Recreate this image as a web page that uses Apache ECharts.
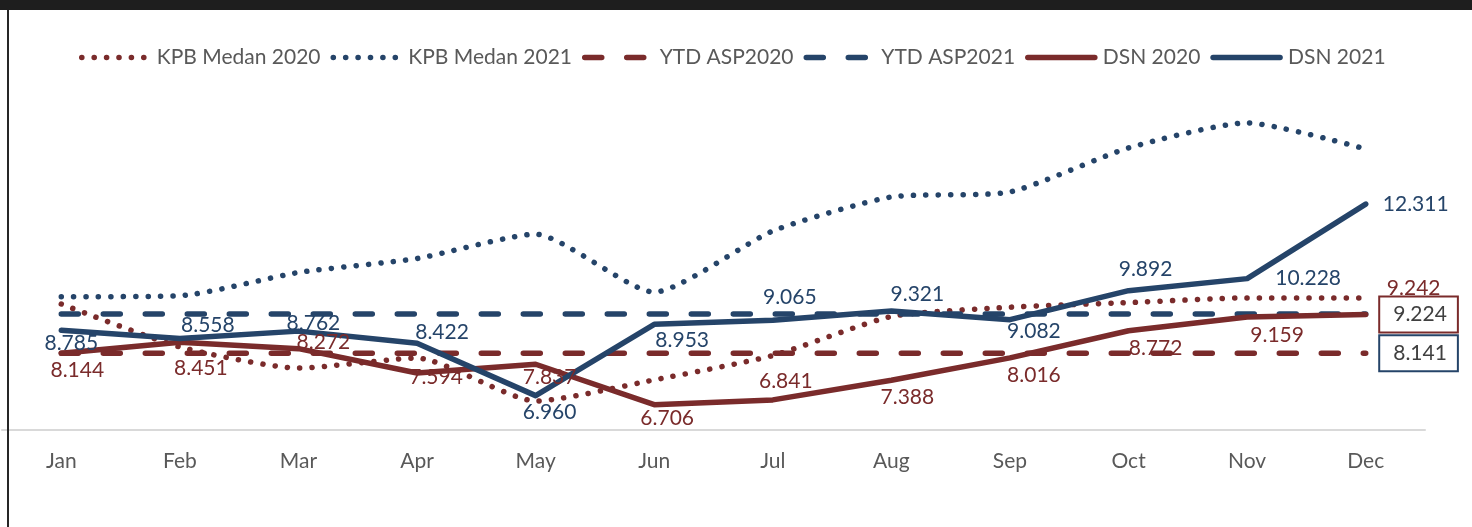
<!DOCTYPE html>
<html>
<head>
<meta charset="utf-8">
<script src="https://cdn.jsdelivr.net/npm/echarts@6/dist/echarts.min.js"></script>
<style>
html,body{margin:0;padding:0;background:#fff;}
#chart{width:1472px;height:527px;}
</style>
</head>
<body>
<div id="chart"></div>
<script>
// ---- data ----
const months = ['Jan','Feb','Mar','Apr','May','Jun','Jul','Aug','Sep','Oct','Nov','Dec'];
const kpb2020 = [9.52, 8.32, 7.73, 8.01, 6.81, 7.40, 8.08, 9.17, 9.43, 9.56, 9.69, 9.69];
const kpb2021 = [9.72, 9.75, 10.40, 10.79, 11.47, 9.85, 11.56, 12.51, 12.65, 13.88, 14.58, 13.85];
const ytd2020 = [8.141, 8.141, 8.141, 8.141, 8.141, 8.141, 8.141, 8.141, 8.141, 8.141, 8.141, 8.141];
const ytd2021 = [9.242, 9.242, 9.242, 9.242, 9.242, 9.242, 9.242, 9.242, 9.242, 9.242, 9.242, 9.242];
const dsn2020 = [8.144, 8.451, 8.272, 7.594, 7.837, 6.706, 6.841, 7.388, 8.016, 8.772, 9.159, 9.224];
const dsn2021 = [8.785, 8.558, 8.762, 8.422, 6.960, 8.953, 9.065, 9.321, 9.082, 9.892, 10.228, 12.311];

// ---- label layout (offsets relative to each point) ----
const dsn2021Offsets = [[10,13],[28,-13],[15,-8],[25,-11],[14,17],[28,16],[17,-23],[26,-17],[24,12],[17,-21],[61,0],[50,0]];
const dsn2020Offsets = [[16,17],[21,26],[25,-6],[19,4],[14,13],[13,14],[13,-19],[16,17],[24,17],[27,17],[30,18],[0,0]];

const RED = '#7a2b2b';
const BLUE = '#254469';
const FONT = 'Lato';

function fmt(v){ return v.toFixed(3); }

function labelled(values, offsets, color){
  return values.map((v,i)=>({
    value: v,
    label: {show: true, position: 'inside', offset: offsets[i], color: color,
            fontSize: 21, fontFamily: FONT, formatter: p => fmt(p.value)}
  }));
}

const dsn2020Data = labelled(dsn2020, dsn2020Offsets, RED);
dsn2020Data[11].label = {show: true, position: 'right', distance: 14, color: '#404040',
  fontSize: 21, fontFamily: FONT, backgroundColor: '#fff', borderColor: RED, borderWidth: 2,
  padding: [7, 10, 6, 13], formatter: p => fmt(p.value)};

const ytd2020Data = ytd2020.map(v=>({value:v}));
ytd2020Data[11] = {value: ytd2020[11], label: {show: true, position: 'right', distance: 14, color: '#404040',
  fontSize: 21, fontFamily: FONT, backgroundColor: '#fff', borderColor: BLUE, borderWidth: 2,
  padding: [7, 10, 6, 13], formatter: p => fmt(p.value)}};

const ytd2021Data = ytd2021.map(v=>({value:v}));
ytd2021Data[11] = {value: ytd2021[11], label: {show: true, position: 'inside', offset: [48,-26], color: RED,
  fontSize: 21, fontFamily: FONT, formatter: p => fmt(p.value)}};

function series(name, data, color, type, width, smooth){
  let dash = 'solid';
  if (type === 'dot') dash = [0.1, 12.3];
  if (type === 'dash') dash = [17, 25];
  return {
    name: name, type: 'line', data: data, smooth: smooth || false,
    symbol: 'circle', symbolSize: 1, showSymbol: true,
    itemStyle: {color: 'rgba(0,0,0,0)', borderWidth: 0},
    color: color,
    lineStyle: {color: color, width: width, type: dash, cap: 'round', join: 'round'},
    emphasis: {disabled: true},
    animation: false
  };
}

const chart = echarts.init(document.getElementById('chart'), null, {renderer: 'canvas'});
chart.setOption({
  animation: false,
  backgroundColor: '#fff',
  grid: {left: 2, right: 47, top: 72, bottom: 97, containLabel: false},
  legend: {
    left: 74, top: 42,
    itemWidth: 67, itemHeight: 14, itemGap: 10,
    textStyle: {color: '#595959', fontSize: 21, fontFamily: FONT, padding: [0,0,0,3]},
    lineStyle: {width: 'inherit', type: 'inherit', cap: 'inherit'},
    itemStyle: {color: 'rgba(0,0,0,0)', borderWidth: 0},
    data: ['KPB Medan 2020','KPB Medan 2021','YTD ASP2020','YTD ASP2021','DSN 2020','DSN 2021']
  },
  xAxis: {
    type: 'category', data: months, boundaryGap: true,
    axisLine: {lineStyle: {color: '#d9d9d9', width: 2}},
    axisTick: {show: false},
    axisLabel: {color: '#595959', fontSize: 21, fontFamily: FONT, margin: 21}
  },
  yAxis: {type: 'value', min: 6, max: 16, show: false, splitLine: {show: false}},
  series: [
    series('KPB Medan 2020', kpb2020, RED, 'dot', 5.5, 0.2),
    series('KPB Medan 2021', kpb2021, BLUE, 'dot', 5.5, 0.2),
    series('YTD ASP2020', ytd2020Data, RED, 'dash', 5.5),
    series('YTD ASP2021', ytd2021Data, BLUE, 'dash', 5.5),
    series('DSN 2020', dsn2020Data, RED, 'solid', 5.5),
    series('DSN 2021', labelled(dsn2021, dsn2021Offsets, BLUE), BLUE, 'solid', 5.5)
  ],
  graphic: [
    {type: 'rect', left: 0, top: 0, shape: {width: 1472, height: 10}, style: {fill: '#1e1e1e'}, z: 100},
    {type: 'rect', left: 7, top: 10, shape: {width: 2, height: 517}, style: {fill: '#262626'}, z: 100}
  ]
});
</script>
</body>
</html>
